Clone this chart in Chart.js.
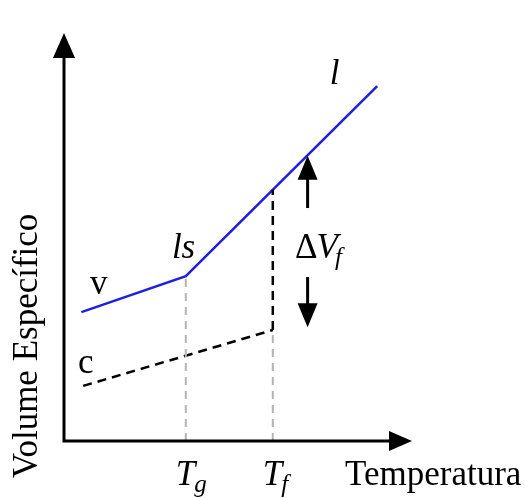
<!DOCTYPE html>
<html>
<head>
<meta charset="utf-8">
<script src="https://cdn.jsdelivr.net/npm/chart.js@4.4.0/dist/chart.umd.min.js"></script>
<style>
  html, body { margin: 0; padding: 0; background: #ffffff; }
  #wrap { width: 525px; height: 498px; }
</style>
</head>
<body>
<div id="wrap"><canvas id="c" width="525" height="498"></canvas></div>
<script>
// ---- data (schematic units: temperature 0..100, specific volume 0..100) ----
const axisLabels = ['Temperatura', 'Volume Específico'];
const transitionTemps = [35, 60];          // Tg, Tf
const transitionNames = [['T', 'g'], ['T', 'f']];
const liquidX = [5, 35, 90];               // vitreous / supercooled / liquid curve
const liquidY = [31.6, 40.4, 87];
const crystalX = [5.5, 60];                // crystal curve (dashed)
const crystalY = [13.5, 27.2];
const deltaArrowX = 70;
const deltaUpY = [57.1, 69.9];             // shaft start, arrow tip
const deltaDownY = [40.2, 27.9];

const interp = (xs, ys, x) => {
  for (let i = 0; i < xs.length - 1; i++) {
    if (x >= xs[i] && x <= xs[i + 1]) {
      return ys[i] + (ys[i + 1] - ys[i]) * (x - xs[i]) / (xs[i + 1] - xs[i]);
    }
  }
  return ys[ys.length - 1];
};
const pts = (xs, ys) => xs.map((x, i) => ({ x, y: ys[i] }));

const tg = transitionTemps[0], tf = transitionTemps[1];
const liqAtTg = interp(liquidX, liquidY, tg);
const liqAtTf = interp(liquidX, liquidY, tf);
const cryAtTf = interp(crystalX, crystalY, tf);

const SERIF = '"Liberation Serif", "Times New Roman", serif';

const decor = {
  id: 'decor',
  afterDatasetsDraw(chart) {
    const { ctx, chartArea: a, scales: { x, y } } = chart;
    ctx.save();
    ctx.fillStyle = '#000';
    ctx.strokeStyle = '#000';
    // axes
    ctx.lineWidth = 3;
    ctx.beginPath();
    ctx.moveTo(a.left, a.top + 24);
    ctx.lineTo(a.left, a.bottom);
    ctx.lineTo(a.right - 22, a.bottom);
    ctx.stroke();
    ctx.beginPath();
    ctx.moveTo(a.left, a.top);
    ctx.lineTo(a.left - 11, a.top + 25);
    ctx.lineTo(a.left + 11, a.top + 25);
    ctx.closePath();
    ctx.fill();
    ctx.beginPath();
    ctx.moveTo(a.right, a.bottom);
    ctx.lineTo(a.right - 23, a.bottom - 10);
    ctx.lineTo(a.right - 23, a.bottom + 10);
    ctx.closePath();
    ctx.fill();

    // ΔVf arrows
    const ax = x.getPixelForValue(deltaArrowX);
    const drawArrow = (y0, y1) => {
      const p0 = y.getPixelForValue(y0), p1 = y.getPixelForValue(y1);
      const dir = p1 > p0 ? 1 : -1;
      ctx.lineWidth = 3;
      ctx.beginPath();
      ctx.moveTo(ax, p0);
      ctx.lineTo(ax, p1 - dir * 20);
      ctx.stroke();
      ctx.beginPath();
      ctx.moveTo(ax, p1);
      ctx.lineTo(ax - 10, p1 - dir * 24);
      ctx.lineTo(ax + 10, p1 - dir * 24);
      ctx.closePath();
      ctx.fill();
    };
    drawArrow(deltaUpY[0], deltaUpY[1]);
    drawArrow(deltaDownY[0], deltaDownY[1]);

    // texts
    ctx.textBaseline = 'alphabetic';
    ctx.textAlign = 'left';
    const txt = (s, px, py, font) => { ctx.font = font; ctx.fillText(s, px, py); return ctx.measureText(s).width; };
    const up = '35px ' + SERIF, it = 'italic 35px ' + SERIF, sub = 'italic 25px ' + SERIF;

    txt('v', x.getPixelForValue(7.5), y.getPixelForValue(36.0), up);
    txt('c', x.getPixelForValue(4.0), y.getPixelForValue(16.7), up);
    txt('ls', x.getPixelForValue(31.0), y.getPixelForValue(44.9), it);
    txt('l', x.getPixelForValue(76.4), y.getPixelForValue(87.5), it);

    // ΔVf
    let px = x.getPixelForValue(66.4), py = y.getPixelForValue(44.9);
    px += txt('Δ', px, py, up);
    px += txt('V', px - 1, py, it);
    txt('f', px - 4, py + 7, sub);

    // Tg, Tf
    const by = a.bottom + 44;
    transitionTemps.forEach((t, i) => {
      let tx = x.getPixelForValue(t) - 10;
      tx += txt(transitionNames[i][0], tx, by, it);
      txt(transitionNames[i][1], tx - 1, by + 7, sub);
    });

    // axis titles
    txt(axisLabels[0], 345, by, up);
    ctx.save();
    ctx.translate(37, 346);
    ctx.rotate(-Math.PI / 2);
    ctx.textAlign = 'center';
    ctx.font = up;
    ctx.fillText(axisLabels[1], 0, 0);
    ctx.restore();
    ctx.restore();
  }
};

const line = (data, color, width, dash) => ({
  data, borderColor: color, borderWidth: width, borderDash: dash,
  showLine: true, pointRadius: 0, fill: false, tension: 0
});

new Chart(document.getElementById('c'), {
  type: 'scatter',
  data: {
    datasets: [
      line([{ x: tg, y: 0 }, { x: tg, y: liqAtTg }], '#b4b4b4', 2, [8, 6]),
      line([{ x: tf, y: 0 }, { x: tf, y: cryAtTf }], '#b4b4b4', 2, [8, 6]),
      line([{ x: tf, y: cryAtTf }, { x: tf, y: liqAtTf }], '#000000', 2.5, [9, 6]),
      line(pts(crystalX, crystalY), '#000000', 2.5, [9, 6]),
      line(pts(liquidX, liquidY), '#1f1fe0', 2.5, [])
    ]
  },
  options: {
    responsive: false,
    animation: false,
    layout: { padding: { left: 64, right: 113, top: 33, bottom: 57 } },
    plugins: { legend: { display: false }, tooltip: { enabled: false } },
    scales: {
      x: { type: 'linear', min: 0, max: 100, display: false },
      y: { type: 'linear', min: 0, max: 100, display: false }
    }
  },
  plugins: [decor]
});
</script>
</body>
</html>
